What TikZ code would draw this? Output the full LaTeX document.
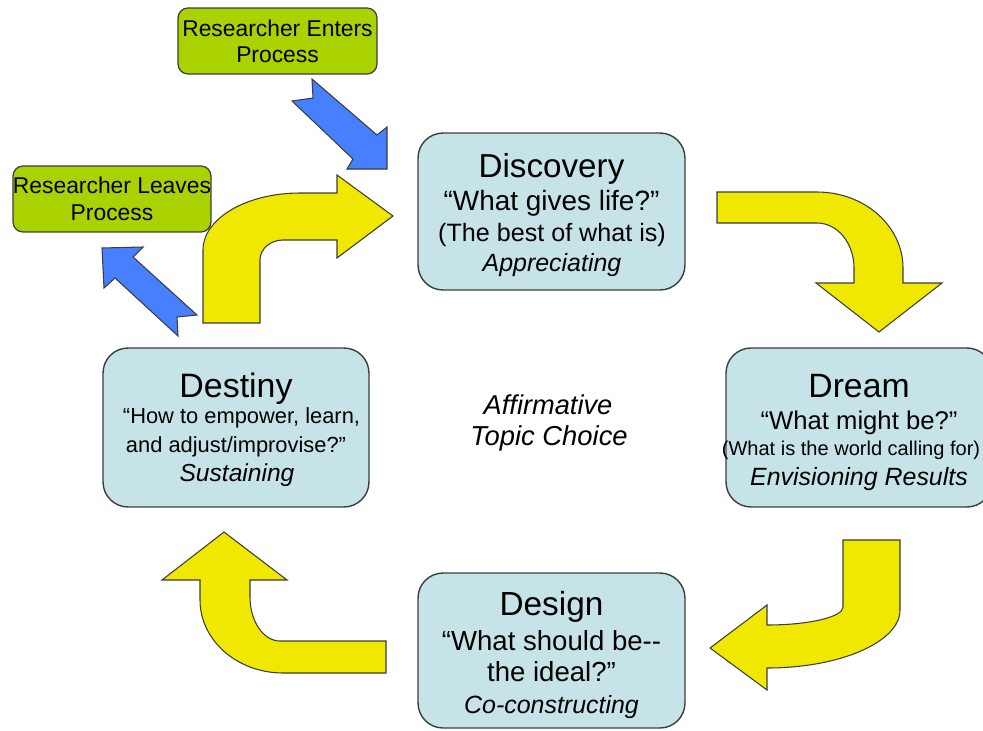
\documentclass[tikz,border=0pt]{standalone}
\usepackage{fontspec}
\setmainfont{Liberation Sans}

\definecolor{phaseblue}{RGB}{198,228,231}
\definecolor{rolegreen}{RGB}{170,210,0}
\definecolor{bendyellow}{RGB}{240,232,0}
\definecolor{arrowblue}{RGB}{70,128,255}
\definecolor{outline}{RGB}{60,60,60}

\tikzset{
	phase/.style={draw=outline, fill=phaseblue, line width=0.8pt, rounded corners=0.5cm, inner sep=0pt},
	role/.style={draw=outline, fill=rolegreen, line width=0.7pt, rounded corners=0.2cm, inner sep=0pt, minimum width=3.98cm, minimum height=1.32cm},
	txt/.style={anchor=base, inner sep=0pt},
	cyclearrow/.style={draw=outline, fill=bendyellow, line width=0.6pt},
	blockarrow/.style={draw=outline, fill=arrowblue, line width=0.6pt},
}

\begin{document}
\begin{tikzpicture}[x=0.02cm, y=-0.02cm]
	\useasboundingbox (0,0) rectangle (983,730);
	\clip (0,0) rectangle (983,730);

	% phase boxes
	\node[phase, minimum width=5.34cm, minimum height=3.14cm] (discovery) at (551.5,211.5) {};
	\node[phase, minimum width=5.32cm, minimum height=3.18cm] (dream) at (859,427.5) {};
	\node[phase, minimum width=5.34cm, minimum height=3.10cm] (design) at (551.5,650.5) {};
	\node[phase, minimum width=5.32cm, minimum height=3.18cm] (destiny) at (236,427.5) {};

	% researcher boxes
	\node[role] (enters) at (277.5,41) {};
	\node[role, minimum width=3.96cm] (leaves) at (112,199) {};
	\node[txt, font=\fontsize{13}{15}\selectfont] (enters-a) at (277.5,36) {Researcher Enters};
	\node[txt, font=\fontsize{13}{15}\selectfont] (enters-b) at (277.5,62) {Process};
	\node[txt, font=\fontsize{13}{15}\selectfont] (leaves-a) at (112,193) {Researcher Leaves};
	\node[txt, font=\fontsize{13}{15}\selectfont] (leaves-b) at (112,220) {Process};

	% discovery
	\node[txt, font=\fontsize{18.9}{22}\selectfont] (disc-t) at (551.5,177) {Discovery};
	\node[txt, font=\fontsize{15.9}{19}\selectfont] (disc-q) at (551.5,210) {“What gives life?”};
	\node[txt, font=\fontsize{14.3}{17}\selectfont] (disc-p) at (552,241) {(The best of what is)};
	\node[txt, font=\itshape\fontsize{14.2}{17}\selectfont] (disc-v) at (552,271) {Appreciating};

	% dream
	\node[txt, font=\fontsize{19.2}{22}\selectfont] (dream-t) at (859,397) {Dream};
	\node[txt, font=\fontsize{14.6}{17}\selectfont] (dream-q) at (859,429) {“What might be?”};
	\node[txt, font=\fontsize{11.4}{14}\selectfont] (dream-p) at (851,455) {(What is the world calling for)};
	\node[txt, font=\itshape\fontsize{14.2}{17}\selectfont] (dream-v) at (859,485) {Envisioning Results};

	% design
	\node[txt, font=\fontsize{19}{22}\selectfont] (design-t) at (551.5,615) {Design};
	\node[txt, font=\fontsize{15.7}{19}\selectfont] (design-q) at (551.5,650) {“What should be-{}-};
	\node[txt, font=\fontsize{15.7}{19}\selectfont] (design-r) at (551.5,681) {the ideal?”};
	\node[txt, font=\itshape\fontsize{14.2}{17}\selectfont] (design-v) at (551.5,713) {Co-constructing};

	% destiny
	\node[txt, font=\fontsize{19.3}{22}\selectfont] (dest-t) at (236,397) {Destiny};
	\node[txt, font=\fontsize{12.45}{15}\selectfont] (dest-q) at (241.5,423) {“How to empower, learn,};
	\node[txt, font=\fontsize{12.45}{15}\selectfont] (dest-r) at (236,452) {and adjust/improvise?”};
	\node[txt, font=\itshape\fontsize{14}{17}\selectfont] (dest-v) at (237,481) {Sustaining};

	% centre
	\node[txt, font=\itshape\fontsize{15.5}{18}\selectfont] (topic-a) at (548,414) {Affirmative};
	\node[txt, font=\itshape\fontsize{15.6}{18}\selectfont] (topic-b) at (549,445) {Topic Choice};

	% yellow bent arrows
	\draw[cyclearrow] (717,192) -- (817,192) .. controls (864.5,192) and (903,226) .. (903,268) -- (903,283)
		-- (942,283) -- (879,332) -- (816,283) -- (854,283) -- (854,268)
		.. controls (854,243) and (837.4,223) .. (817,223) -- (717,223) -- cycle;
	\draw[cyclearrow] (843,540) -- (900,540) -- (900,610) .. controls (900,642) and (840,668) .. (767,668)
		-- (767,690) -- (710,648) -- (767,605) -- (767,625)
		.. controls (809,625) and (843,617) .. (843,607) -- cycle;
	\draw[cyclearrow] (386,641) -- (280,641) .. controls (263.4,641) and (250,621.3) .. (250,597) -- (250,580)
		-- (287,580) -- (224,532) -- (162,580) -- (200,580) -- (200,600)
		.. controls (200,640.3) and (237.2,673) .. (283,673) -- (386,673) -- cycle;
	\draw[cyclearrow] (203,323) -- (203,250) .. controls (203,218.5) and (246.5,193) .. (300,193) -- (337,193)
		-- (337,175) -- (393,216) -- (337,258) -- (337,240) -- (283,240)
		.. controls (270.3,240) and (260,249) .. (260,260) -- (260,323) -- cycle;

	% blue arrows
	\draw[blockarrow] (312,79) -- (377,135) -- (387,127) -- (387,169) -- (347,169) -- (353,159)
		-- (292,101) -- (313,98) -- cycle;
	\draw[blockarrow] (197,315) -- (133,257) -- (143,247) -- (102,248) -- (104,288) -- (115,278)
		-- (178,336) -- (177,317) -- cycle;
\end{tikzpicture}
\end{document}
